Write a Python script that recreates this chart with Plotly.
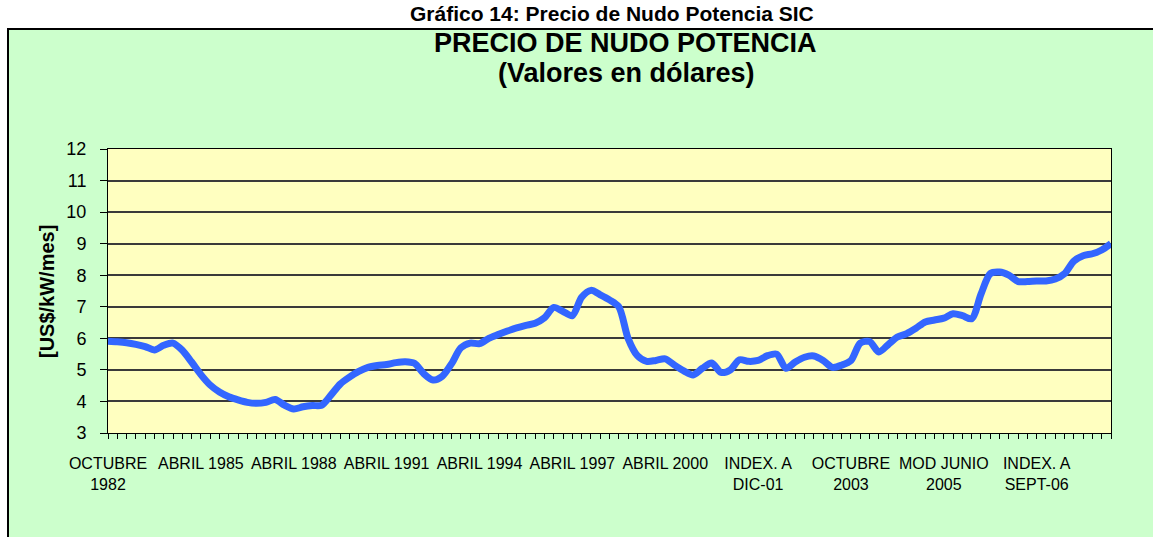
import plotly.graph_objects as go

# ---- data ----
tick_labels = ["OCTUBRE<br>1982", "ABRIL 1985", "ABRIL 1988", "ABRIL 1991", "ABRIL 1994",
               "ABRIL 1997", "ABRIL 2000", "INDEX. A<br>DIC-01", "OCTUBRE<br>2003",
               "MOD JUNIO<br>2005", "INDEX. A<br>SEPT-06"]
label_positions = [0, 10, 20, 30, 40, 50, 60, 70, 80, 90, 100]

precio = [5.91, 5.89, 5.86, 5.81, 5.74, 5.63, 5.78, 5.85, 5.62, 5.25,
          4.85, 4.52, 4.30, 4.15, 4.05, 3.97, 3.94, 3.97, 4.06, 3.88,
          3.76, 3.83, 3.87, 3.88, 4.20, 4.55, 4.77, 4.95, 5.08, 5.14,
          5.17, 5.23, 5.26, 5.21, 4.88, 4.68, 4.80, 5.20, 5.70, 5.85,
          5.83, 6.00, 6.12, 6.23, 6.33, 6.41, 6.48, 6.65, 6.98, 6.85,
          6.72, 7.30, 7.52, 7.38, 7.22, 7.00, 6.00, 5.45, 5.27, 5.30,
          5.35, 5.15, 4.97, 4.84, 5.05, 5.22, 4.92, 5.00, 5.32, 5.27,
          5.30, 5.45, 5.50, 5.05, 5.25, 5.40, 5.44, 5.30, 5.08, 5.15,
          5.30, 5.85, 5.90, 5.57, 5.80, 6.04, 6.15, 6.32, 6.52, 6.58,
          6.64, 6.78, 6.72, 6.62, 7.40, 8.05, 8.10, 8.00, 7.80, 7.80,
          7.82, 7.82, 7.88, 8.05, 8.45, 8.62, 8.68, 8.80, 9.00]
x_idx = list(range(len(precio)))

tickvals = x_idx
ticktext = [""] * len(x_idx)
for p, lab in zip(label_positions, tick_labels):
    ticktext[p] = lab

FONT = "Arial, Liberation Sans, sans-serif"
W, H = 1153, 537
L, R, T, B = 108, 42, 149, 104
pw, ph = W - L - R, H - T - B


def px(xp):  # page pixel x -> paper
    return (xp - L) / pw


def py(yp):  # page pixel y -> paper
    return (H - B - yp) / ph


fig = go.Figure()
fig.add_trace(go.Scatter(
    x=x_idx, y=precio, mode="lines",
    line=dict(color="#3366FF", width=7, shape="spline", smoothing=0.8),
    hoverinfo="y", showlegend=False))

shapes = [
    dict(type="rect", xref="paper", yref="paper", x0=-0.3, x1=1.3, y0=py(29), y1=py(-20),
         fillcolor="white", line=dict(width=0), layer="below"),
    dict(type="rect", xref="paper", yref="paper", x0=-0.3, x1=px(8), y0=-0.6, y1=py(-20),
         fillcolor="white", line=dict(width=0), layer="below"),
    dict(type="rect", xref="paper", yref="paper", x0=px(8), x1=px(1170), y0=py(560), y1=py(29),
         fillcolor="rgba(0,0,0,0)", line=dict(color="black", width=2), layer="below"),
]

annotations = [
    dict(text="<b>Gráfico 14: Precio de Nudo Potencia SIC</b>", xref="paper", yref="paper",
         x=px(612), y=py(0), xanchor="center", yanchor="top", showarrow=False,
         font=dict(family=FONT, size=21, color="black")),
    dict(text="<b>PRECIO DE NUDO POTENCIA</b>", xref="paper", yref="paper",
         x=px(625), y=py(43), xanchor="center", yanchor="middle", showarrow=False,
         font=dict(family=FONT, size=27, color="black")),
    dict(text="<b>(Valores en dólares)</b>", xref="paper", yref="paper",
         x=px(626), y=py(73), xanchor="center", yanchor="middle", showarrow=False,
         font=dict(family=FONT, size=27, color="black")),
    dict(text="<b>[US$/kW/mes]</b>", xref="paper", yref="paper", textangle=-90,
         x=px(47), y=py(292), xanchor="center", yanchor="middle", showarrow=False,
         font=dict(family=FONT, size=20, color="black")),
]

fig.update_layout(
    width=W, height=H,
    margin=dict(l=L, r=R, t=T, b=B, pad=0),
    paper_bgcolor="#CCFFCC",
    plot_bgcolor="#FFFFC0",
    font=dict(family=FONT, color="black"),
    shapes=shapes,
    annotations=annotations,
    xaxis=dict(
        range=[0, len(precio) - 1], tickmode="array", tickvals=tickvals, ticktext=ticktext,
        ticks="outside", ticklen=5, tickwidth=1, tickcolor="black",
        showline=True, linecolor="black", linewidth=1, mirror=True,
        showgrid=False, zeroline=False, tickangle=0,
        ticklabelstandoff=11,
        tickfont=dict(family=FONT, size=16, color="black"),
    ),
    yaxis=dict(
        range=[3, 12], dtick=1, tick0=3,
        ticks="outside", ticklen=7, tickwidth=1, tickcolor="black",
        showline=True, linecolor="black", linewidth=1, mirror=True,
        showgrid=True, gridcolor="#3a3a3a", gridwidth=1.5, zeroline=False,
        ticklabelstandoff=10,
        tickfont=dict(family=FONT, size=18, color="black"),
    ),
)

fig.write_html("out.html", config={"displayModeBar": False},
               post_script="document.body.style.margin='0px';document.body.style.overflow='hidden';")
